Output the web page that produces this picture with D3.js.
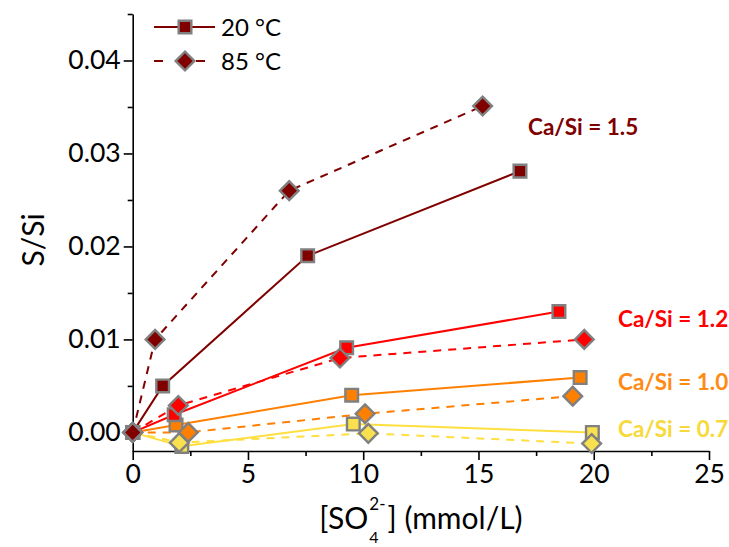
<!DOCTYPE html>
<html><head><meta charset="utf-8">
<script src="https://cdn.jsdelivr.net/npm/d3@7"></script>
<style>body{margin:0;background:#fff}svg{display:block}text{font-family:Lato,"Open Sans",sans-serif}</style>
</head><body>
<svg id="c" width="729" height="547"></svg>
<script>
// ---- data ----
const ratios = ["1.5", "1.2", "1.0", "0.7"];
const temps = ["20 °C", "85 °C"];
const x20_15 = [0, 1.30, 7.59, 16.80];  const y20_15 = [0, 0.0050, 0.0190, 0.0281];
const x85_15 = [0, 0.97, 6.79, 15.18];  const y85_15 = [0, 0.0100, 0.0260, 0.0351];
const x20_12 = [0, 1.80, 9.28, 18.49];  const y20_12 = [0, 0.0019, 0.0091, 0.0130];
const x85_12 = [0, 1.98, 8.99, 19.59];  const y85_12 = [0, 0.0029, 0.0080, 0.0100];
const x20_10 = [0, 1.88, 9.50, 19.41];  const y20_10 = [0, 0.0008, 0.0040, 0.0059];
const x85_10 = [0, 2.41, 10.08, 19.09]; const y85_10 = [0, 0.0000, 0.0020, 0.0039];
const x20_07 = [0, 2.13, 9.57, 19.94];  const y20_07 = [0, -0.0015, 0.0009, 0.0000];
const x85_07 = [0, 2.02, 10.22, 19.91]; const y85_07 = [0, -0.0011, -0.0001, -0.0012];
const xTicks = [0, 5, 10, 15, 20, 25];
const xMinor = [2.5, 7.5, 12.5, 17.5, 22.5];
const yTicks = [0, 0.01, 0.02, 0.03, 0.04];
const yMinor = [0.005, 0.015, 0.025, 0.035, 0.045];

const colors = {"1.5": "#800000", "1.2": "#ff0000", "1.0": "#ff8000", "0.7": "#ffdf40"};
const fills  = {"1.5": "#800000", "1.2": "#ff0000", "1.0": "#ff8000", "0.7": "#f9e04e"};
const labelColors = {"1.5": "#800000", "1.2": "#ff0000", "1.0": "#ff8a14", "0.7": "#f7d93a"};

const series = [
  {r: "0.7", t: 0, xs: x20_07, ys: y20_07}, {r: "0.7", t: 1, xs: x85_07, ys: y85_07},
  {r: "1.0", t: 0, xs: x20_10, ys: y20_10}, {r: "1.0", t: 1, xs: x85_10, ys: y85_10},
  {r: "1.2", t: 0, xs: x20_12, ys: y20_12}, {r: "1.2", t: 1, xs: x85_12, ys: y85_12},
  {r: "1.5", t: 0, xs: x20_15, ys: y20_15}, {r: "1.5", t: 1, xs: x85_15, ys: y85_15}
];

const svg = d3.select("#c");
const x = d3.scaleLinear().domain([0, 25]).range([132.7, 709]);
const y = d3.scaleLinear().domain([-0.002, 0.045]).range([451, 14]);

// axes
const gx = svg.append("g").attr("transform", "translate(0,451)");
gx.call(d3.axisBottom(x).tickValues(xTicks).tickFormat(d3.format("d")).tickSize(9).tickSizeOuter(0).tickPadding(4));
const gxm = svg.append("g").attr("transform", "translate(0,451)");
gxm.call(d3.axisBottom(x).tickValues(xMinor).tickFormat("").tickSize(5).tickSizeOuter(0));
gxm.select(".domain").remove();
const gy = svg.append("g").attr("transform", "translate(132.7,0)");
gy.call(d3.axisLeft(y).tickValues(yTicks).tickFormat(d3.format(".2f")).tickSize(9).tickSizeOuter(0).tickPadding(3));
const gym = svg.append("g").attr("transform", "translate(132.7,0)");
gym.call(d3.axisLeft(y).tickValues(yMinor).tickFormat("").tickSize(5).tickSizeOuter(0));
gym.select(".domain").remove();
svg.selectAll(".domain, .tick line").attr("stroke", "#000").attr("stroke-width", 1.6);
svg.selectAll(".tick text").attr("font-family", "Lato").attr("font-size", 26.5).attr("fill", "#000");

// axis titles
svg.append("text").attr("transform", "translate(44,240) rotate(-90)").attr("text-anchor", "middle")
  .attr("font-size", 30).text("S/Si");
const xt = svg.append("g");
const t1 = xt.append("text").attr("x", 0).attr("y", 529).attr("font-size", 30).text("[SO");
const w1 = t1.node().getComputedTextLength();
const sup = xt.append("text").attr("x", w1 + 1).attr("y", 510).attr("font-size", 17).text("2-");
const sub = xt.append("text").attr("x", w1 + 1).attr("y", 543).attr("font-size", 16).text("4");
const ws = Math.max(sup.node().getComputedTextLength(), sub.node().getComputedTextLength());
const t2 = xt.append("text").attr("x", w1 + ws + 3).attr("y", 529).attr("font-size", 30).text("] (mmol/L)");
const total = w1 + ws + 3 + t2.node().getComputedTextLength();
xt.attr("transform", `translate(${420.9 - total / 2},0)`);

// lines
const line = d3.line().x(d => x(d[0])).y(d => y(d[1]));
series.forEach(s => {
  svg.append("path").datum(s.xs.map((v, i) => [v, s.ys[i]]))
    .attr("d", line).attr("fill", "none").attr("stroke", colors[s.r]).attr("stroke-width", 2)
    .attr("stroke-dasharray", s.t === 1 ? "8,7" : null);
});
// markers
const sq = d3.symbol().type(d3.symbolSquare).size(160);
const dm = d3.symbol().type(d3.symbolSquare).size(175);
function marker(g, t, r, px, py) {
  g.append("path").attr("d", t === 0 ? sq() : dm())
    .attr("transform", `translate(${px},${py})` + (t === 1 ? " rotate(45)" : ""))
    .attr("fill", fills[r]).attr("stroke", "#808080").attr("stroke-width", 2.4);
}
series.forEach(s => {
  const g = svg.append("g");
  s.xs.forEach((v, i) => marker(g, s.t, s.r, x(v), y(s.ys[i])));
});

// series labels
const labPos = {"1.5": [528, 135], "1.2": [618, 327], "1.0": [618, 390], "0.7": [618, 437]};
ratios.forEach(r => {
  svg.append("text").attr("x", labPos[r][0]).attr("y", labPos[r][1]).attr("font-weight", "bold")
    .attr("font-size", 22.5).attr("fill", labelColors[r]).text("Ca/Si = " + r);
});

// legend
const lg = svg.append("g");
temps.forEach((t, i) => {
  const ly = 27 + i * 34;
  lg.append("line").attr("x1", 154).attr("x2", 215).attr("y1", ly).attr("y2", ly)
    .attr("stroke", colors["1.5"]).attr("stroke-width", 2).attr("stroke-dasharray", i === 1 ? "9,22,0,0" : null);
  if (i === 1) {
    lg.append("line").attr("x1", 196).attr("x2", 205).attr("y1", ly).attr("y2", ly)
      .attr("stroke", colors["1.5"]).attr("stroke-width", 2);
  }
  marker(lg, i, "1.5", 185, ly);
  lg.append("text").attr("x", 221).attr("y", ly + 9).attr("font-size", 24).text(t);
});
</script>
</body></html>
